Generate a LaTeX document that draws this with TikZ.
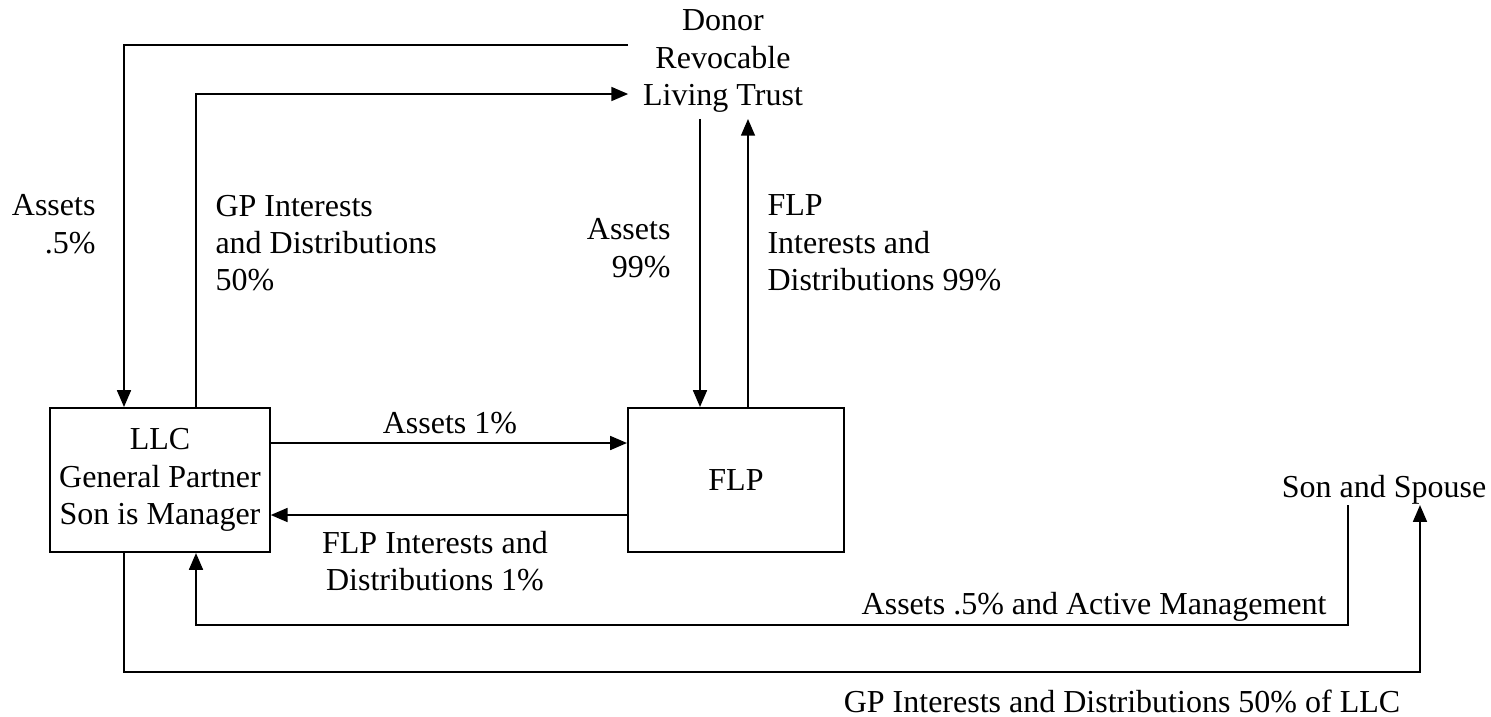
\documentclass[tikz,border=0pt]{standalone}
\usepackage{fontspec}
\setmainfont{Liberation Serif}
\usetikzlibrary{arrows.meta}
\tikzset{
	flow/.style={line width=0.75pt, -{Triangle[length=6.3pt,width=5.2pt]}},
	entity/.style={draw, line width=0.75pt, minimum width=81pt, minimum height=54pt, align=center},
	lbl/.style={inner sep=0pt}
}
\begin{document}
\begin{tikzpicture}[x=0.375pt, y=-0.375pt, every node/.style={font=\fontsize{12}{14}\selectfont}]
		\useasboundingbox (0,0) rectangle (1491,716);
		
		\node[entity] (llc) at (160,480) {LLC\\General Partner\\Son is Manager};
		\node[entity] (flp) at (736,480) {FLP};
		\node[align=center, inner xsep=5.4pt, inner ysep=2.3pt] (trust) at (723,61) {Donor\\Revocable\\Living Trust};
		\node[inner sep=0pt] (son) at (1384,490) {Son and Spouse};
		
		\coordinate (llcA) at ([shift={(-36,0)}]llc.north);
		\coordinate (llcB) at ([shift={(36,0)}]llc.north);
		\coordinate (llcC) at ([shift={(-36,0)}]llc.south);
		\coordinate (llcD) at ([shift={(36,0)}]llc.south);
		\coordinate (flpA) at ([shift={(-36,0)}]flp.north);
		\coordinate (flpB) at ([shift={(12,0)}]flp.north);
		\coordinate (sonA) at ([shift={(-36,0)}]son.south);
		\coordinate (sonB) at ([shift={(36,0)}]son.south);
		
		\draw[flow] (trust.west |- 0,45) -| (llcA);
		\draw[flow] (llcB) |- (trust.west |- 0,94);
		\draw[flow] (flpA |- trust.south) -- (flpA);
		\draw[flow] (flpB) -- (flpB |- trust.south);
		\draw[flow] ([shift={(0,-37)}]llc.east) -- ([shift={(0,-37)}]flp.west);
		\draw[flow] ([shift={(0,35)}]flp.west) -- ([shift={(0,35)}]llc.east);
		\draw[flow] (sonA) -- (sonA |- 0,625) -| (llcD);
		\draw[flow] (llcC) -- (llcC |- 0,672) -| (sonB);
		
		\node[lbl, anchor=east, align=right] (assetsLLC) at (96,224) {Assets\\.5\%};
		\node[lbl, anchor=west, align=left] (gpTrust) at (215,243) {GP Interests\\and Distributions\\50\%};
		\node[lbl, anchor=east, align=right] (assetsFLP) at (671,248) {Assets\\99\%};
		\node[lbl, anchor=west, align=left] (flpTrust) at (767,243) {FLP\\Interests and\\Distributions 99\%};
		\node[lbl] (assetsOne) at (450,423) {Assets 1\%};
		\node[lbl, align=center] (flpOne) at (435,561) {FLP Interests and\\Distributions 1\%};
		\node[lbl, anchor=east] (assetsSon) at (1327,607) {Assets .5\% and Active Management};
		\node[lbl] (gpSon) at (1122,701) {GP Interests and Distributions 50\% of LLC};
	\end{tikzpicture}
\end{document}
